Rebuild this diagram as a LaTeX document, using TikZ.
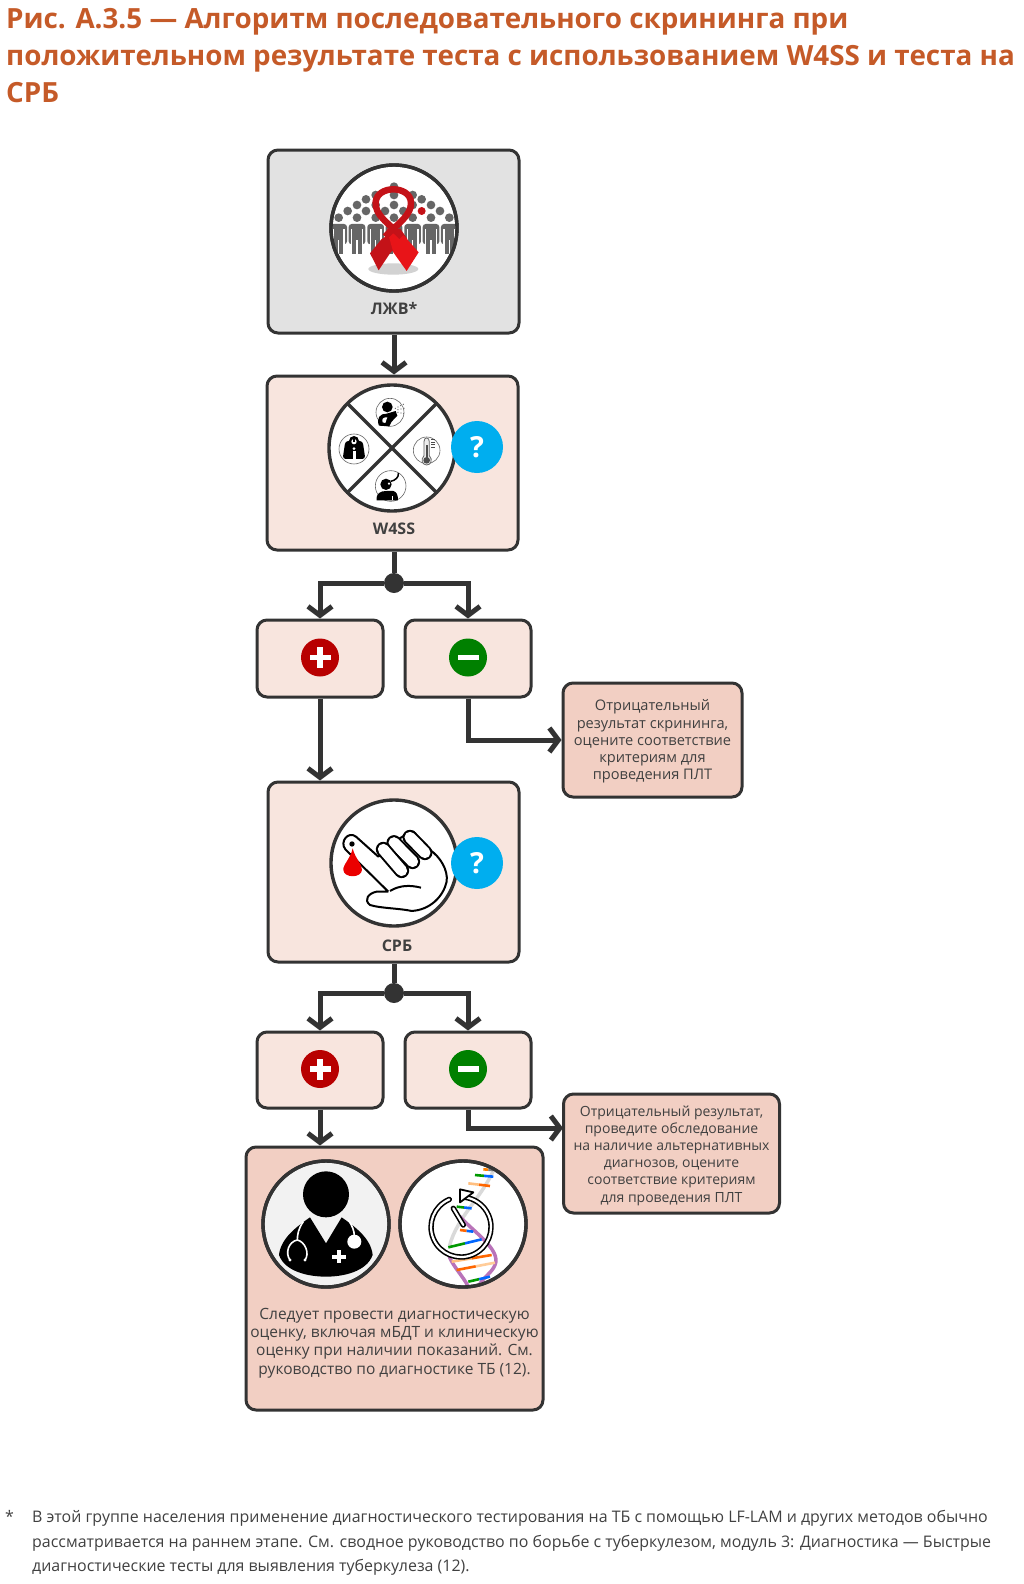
\documentclass[tikz,border=0pt]{standalone}
\usepackage{fontspec}
\setmainfont{Open Sans}
\usepackage{xcolor}
\usetikzlibrary{arrows.meta, positioning, calc}
\definecolor{inkdark}{RGB}{51,51,51}
\definecolor{boxgrey}{RGB}{226,226,226}
\definecolor{boxpale}{RGB}{248,229,222}
\definecolor{boxrose}{RGB}{242,207,195}
\definecolor{titlerust}{RGB}{197,90,40}
\definecolor{askblue}{RGB}{0,174,239}
\definecolor{plusred}{RGB}{184,0,0}
\definecolor{minusgreen}{RGB}{0,128,0}
\definecolor{crowdgrey}{RGB}{102,102,102}
\definecolor{ribbondark}{RGB}{196,18,24}
\definecolor{ribbonlight}{RGB}{232,20,24}
\definecolor{textgrey}{RGB}{64,64,64}
\tikzset{
  flowbox/.style={draw=inkdark, line width=3pt, rounded corners=10pt, inner sep=0pt},
  flowline/.style={draw=inkdark, line width=5pt},
  flowarrow/.style={flowline, -{Straight Barb[length=9pt,width=24pt,line width=5pt]}},
  flowdot/.style={circle, fill=inkdark, minimum size=20pt, inner sep=0pt},
  iconring/.style={draw=inkdark, line width=3.4pt, fill=white},
  minicon/.style={draw=crowdgrey, line width=0.6pt, fill=white},
  askmark/.style={circle, fill=askblue, text=white, minimum size=52pt, inner sep=0pt, font=\fontsize{29}{29}\selectfont\bfseries},
  signmark/.style={circle, minimum size=38pt, inner sep=0pt},
  boxhead/.style={text=textgrey, font=\fontsize{16}{18}\selectfont\bfseries},
  boxtext/.style={text=textgrey, align=center, inner sep=0pt, font=\fontsize{14.6}{17.2}\selectfont},
  zoomview/.style={x=0.3333pt, y=-0.3333pt},
}
\begin{document}
\begin{tikzpicture}[x=1pt, y=-1pt]
  \useasboundingbox (0,0) rectangle (1024,1584);
  % heading
  \node[anchor=north west, text=titlerust, align=left, inner sep=0pt, font=\fontsize{27.8}{37}\selectfont\bfseries] (heading) at (6,8)
    {Рис. А.3.5 --- Алгоритм последовательного скрининга при\\положительном результате теста с использованием W4SS и теста на\\СРБ};

  % boxes
  \node[flowbox, fill=boxgrey, minimum width=251pt, minimum height=183pt] (plhiv) at (393.5,241.5) {};
  \node[flowbox, fill=boxpale, minimum width=251pt, minimum height=174pt] (wfss) at (392.5,463) {};
  \node[flowbox, fill=boxpale, minimum width=126pt, minimum height=77pt] (plusa) at (320,658.5) {};
  \node[flowbox, fill=boxpale, minimum width=126pt, minimum height=77pt] (minusa) at (468,658.5) {};
  \node[flowbox, fill=boxrose, minimum width=179pt, minimum height=114pt] (nega) at (652.5,740) {};
  \node[flowbox, fill=boxpale, minimum width=251pt, minimum height=180pt] (crp) at (393.5,872) {};
  \node[flowbox, fill=boxpale, minimum width=126pt, minimum height=76pt] (plusb) at (320,1070) {};
  \node[flowbox, fill=boxpale, minimum width=126pt, minimum height=76pt] (minusb) at (468,1070) {};
  \node[flowbox, fill=boxrose, minimum width=216pt, minimum height=119pt] (negb) at (671.5,1153.5) {};
  \node[flowbox, fill=boxrose, minimum width=297pt, minimum height=263pt] (assess) at (394.5,1278.5) {};

  % connectors
  \node[flowdot] (splita) at (394,583) {};
  \node[flowdot] (splitb) at (394,993) {};
  \coordinate (negbin) at (563,1128);
  \draw[flowarrow] (plhiv.south -| splita) -- (wfss.north -| splita);
  \draw[flowline] (wfss.south -| splita) -- (splita);
  \draw[flowarrow] (splita) -| (plusa.north);
  \draw[flowarrow] (splita) -| (minusa.north);
  \draw[flowarrow] (plusa.south) -- (plusa.south |- crp.north);
  \draw[flowarrow] (minusa.south) |- (nega.west);
  \draw[flowline] (crp.south -| splitb) -- (splitb);
  \draw[flowarrow] (splitb) -| (plusb.north);
  \draw[flowarrow] (splitb) -| (minusb.north);
  \draw[flowarrow] (plusb.south) -- (plusb.south |- assess.north);
  \draw[flowarrow] (minusb.south) |- (negbin);

  % people and ribbon
  \fill[iconring] (394,228) circle (63);
  \begin{scope}
    \clip (394,228) circle (61.5);
    \begin{scope}[shift={(330,165)}, zoomview]
      \fill[gray!35] (190,312) ellipse (75 and 17);
      \foreach \hx/\hy in {192/65,137/90,192/90,248/90,108/103,275/103,81/120,137/120,192/120,248/120,303/120,53/138,108/138,165/138,220/138,330/138,26/158,81/158,137/158,192/158,248/158,303/158,358/158}
        \fill[crowdgrey] (\hx,\hy) circle (13);
      \fill[ribbondark] (275,138) circle (12);
      \foreach \px in {26,81,137,192,248,303,358}{
        \fill[crowdgrey, rounded corners=3pt] (\px-25,177) rectangle (\px+25,238);
        \fill[crowdgrey] (\px-14,230) rectangle (\px+14,266);
        \fill[white] (\px-2,226) rectangle (\px+2,268);
        \fill[white] (\px-18,192) rectangle (\px-14,240);
        \fill[white] (\px+14,192) rectangle (\px+18,240);
      }
    \end{scope}
  \end{scope}
  \begin{scope}[shift={(330,165)}, zoomview]
    \fill[ribbondark] (210,190) -- (155,222) -- (120,265) -- (146,316) -- (182,262) -- (232,222) -- cycle;
    \fill[ribbonlight] (170,190) -- (190,262) -- (230,318) -- (266,262) -- (222,212) -- cycle;
    \draw[ribbondark, line width=6.5pt, line join=round] (215,215) .. controls (170,170) and (135,150) .. (137,112) .. controls (140,60) and (240,60) .. (243,112) .. controls (245,150) and (205,175) .. (165,215);
  \end{scope}
  \draw[iconring, fill=none] (394,228) circle (63);
  \node[boxhead] (plhivlabel) at (394,309) {ЛЖВ*};

  % four symptoms
  \fill[iconring] (392,448) circle (63);
  \draw[inkdark, line width=3.4pt] (347.5,403.5) -- (436.5,492.5) (436.5,403.5) -- (347.5,492.5);
  \begin{scope}[shift={(330,385)}, zoomview]
    \draw[minicon] (180,82) circle (42);
    \draw[minicon] (290,196) circle (40);
    \draw[minicon] (72,192) circle (45);
    \draw[minicon] (182,303) circle (46);
    % cough
    \fill[black] (172,66) circle (16);
    \fill[black] (147,122) .. controls (138,100) and (150,85) .. (170,86) -- (197,78) -- (202,92) -- (185,110) -- (178,124) -- cycle;
    \fill[white] (158,112) .. controls (154,102) and (160,96) .. (172,97) -- (166,114) -- cycle;
    \foreach \dropx/\dropy in {196/70,204/66,212/62,220/58,204/74,213/72,222/70,204/82,213/84,221/86}
      \fill[crowdgrey] (\dropx,\dropy) circle (2);
    % thermometer
    \draw[crowdgrey, line width=0.8pt, fill=gray!15] (282,212) -- (282,170) .. controls (282,155) and (298,155) .. (298,170) -- (298,212) .. controls (310,225) and (302,240) .. (290,240) .. controls (278,240) and (270,225) .. (282,212) -- cycle;
    \fill[black!70] (290,226) circle (10);
    \fill[black!70] (287,180) rectangle (293,222);
    \foreach \ty in {163,171,179,187}
      \draw[black!70, line width=0.8pt] (304,\ty) -- (316,\ty);
    % scales
    \fill[black, rounded corners=3pt] (46,168) -- (98,168) -- (106,222) -- (38,222) -- cycle;
    \fill[black] (72,168) circle (15);
    \fill[white] (72,170) circle (8);
    \fill[black] (70,163) rectangle (74,171);
    \fill[white] (72,191) circle (4.5);
    \fill[white] (67.5,199) rectangle (76.5,225);
    % night sweats
    \fill[black] (168,298) circle (17);
    \fill[white] (177,296) circle (3.5);
    \fill[black] (140,346) .. controls (138,325) and (150,318) .. (170,318) -- (190,318) .. controls (200,320) and (204,330) .. (204,346) -- cycle;
    \fill[white] (187,332) rectangle (190,346);
    \draw[black, line width=1.5pt] (205,264) .. controls (208,276) and (195,287) .. (182,289);
  \end{scope}
  \node[askmark] (askwfss) at (477,447) {?};
  \node[boxhead] (wfsslabel) at (394,529) {W4SS};

  % signs
  \foreach \signname/\signbox/\signfill in {signpa/plusa/plusred,signma/minusa/minusgreen,signpb/plusb/plusred,signmb/minusb/minusgreen}
    \node[signmark, fill=\signfill, yshift=1pt] (\signname) at (\signbox) {};
  \foreach \signname in {signpa,signpb}{
    \fill[white] ($(\signname)+(-10.5,-2.8)$) rectangle ($(\signname)+(10.5,2.8)$);
    \fill[white] ($(\signname)+(-2.8,-10.5)$) rectangle ($(\signname)+(2.8,10.5)$);
  }
  \foreach \signname in {signma,signmb}
    \fill[white] ($(\signname)+(-10.5,-2.6)$) rectangle ($(\signname)+(10.5,2.6)$);

  % finger prick
  \fill[iconring] (394,863) circle (63);
  \begin{scope}[shift={(240,560)}, zoomview]
    \draw[black, line width=2pt, line join=round, fill=white] (445,995) -- (316,868) .. controls (298,845) and (325,812) .. (348,830) -- (415,890) -- (455,858) -- (475,838) -- (500,822) -- (520,815) -- (570,870) .. controls (600,890) and (625,930) .. (620,965) .. controls (610,1010) and (570,1050) .. (515,1053) .. controls (480,1045) and (420,1045) .. (390,1035) .. controls (370,1020) and (385,1000) .. (410,995) -- (445,995);
    \foreach \xa/\ya/\xb/\yb in {510/832/555/878,462/848/518/905,430/868/485/932}{
      \draw[black, line width=15pt, line cap=round] (\xa,\ya) -- (\xb,\yb);
      \draw[white, line width=11pt, line cap=round] (\xa,\ya) -- (\xb,\yb);
    }
    \draw[black, line width=2pt] (450,993) .. controls (480,975) and (510,975) .. (543,983);
    \fill[black] (336,852) circle (8);
    \fill[red!92!black] (338,865) .. controls (345,895) and (368,915) .. (366,930) .. controls (364,955) and (312,955) .. (310,930) .. controls (308,915) and (332,895) .. (338,865) -- cycle;
  \end{scope}
  \node[askmark] (askcrp) at (477,863) {?};
  \node[boxhead] (crplabel) at (397,946) {СРБ};

  % clinician
  \fill[iconring, fill=gray!10] (326,1224) circle (63);
  \begin{scope}[shift={(260,1160)}, zoomview]
    \fill[black] (198,103) circle (69);
    \fill[black] (57,285) .. controls (62,235) and (110,200) .. (150,172) -- (198,250) -- (245,172) .. controls (285,200) and (333,235) .. (338,285) .. controls (320,335) and (250,350) .. (198,350) .. controls (145,350) and (75,335) .. (57,285) -- cycle;
    \draw[white, line width=1.6pt] (130,185) .. controls (115,205) and (112,225) .. (112,240) .. controls (85,245) and (75,280) .. (90,300) (112,240) .. controls (135,245) and (150,280) .. (135,300);
    \fill[white] (90,300) circle (5);
    \fill[white] (135,300) circle (5);
    \draw[white, line width=1.6pt] (265,180) .. controls (275,195) and (283,210) .. (283,228);
    \fill[white] (283,245) circle (21);
    \fill[white] (217,284) rectangle (257,296);
    \fill[white] (231,270) rectangle (243,310);
  \end{scope}
  \draw[iconring, fill=none] (326,1224) circle (63);

  % helix and clock
  \fill[iconring] (463,1224) circle (63);
  \begin{scope}
    \clip (463,1224) circle (61.5);
    \begin{scope}[shift={(260,1160)}, zoomview]
      \draw[gray!30, line width=3.5pt] (705,20) .. controls (670,110) and (590,170) .. (568,260);
      \draw[violet!55, line width=3.5pt] (600,170) .. controls (640,215) and (725,270) .. (705,315) .. controls (695,340) and (670,350) .. (655,380);
      \draw[violet!55, line width=3.5pt] (568,290) .. controls (580,320) and (610,350) .. (625,380);
      \foreach \xa/\ya/\xb/\yb/\tonea/\toneb in {670/28/700/30/orange/gray,645/45/700/50/green!60!black/blue!60!cyan,625/70/690/78/orange!50!white/orange!80!red,590/140/635/145/green!60!black/blue!60!cyan,600/210/640/215/orange!80!red/blue!60!cyan,565/262/665/238/green!60!black/blue!60!cyan,575/305/695/285/orange!50!white/orange!80!red,590/330/705/308/orange!80!red/orange!40!white,625/365/690/350/green!60!black/blue!60!cyan}{
        \draw[\tonea, line width=2.6pt] (\xa,\ya) -- ($(\xa,\ya)!0.5!(\xb,\yb)$);
        \draw[\toneb, line width=2.6pt] ($(\xa,\ya)!0.5!(\xb,\yb)$) -- (\xb,\yb);
      }
    \end{scope}
  \end{scope}
  \draw[black, line width=5.4pt, line cap=round] (449.3,1199.4) arc (247:-86:30);
  \draw[white, line width=2.2pt, line cap=round] (449.3,1199.4) arc (247:-86:30);
  \begin{scope}[shift={(260,1160)}, zoomview]
    \draw[black, line width=1.8pt, fill=white, line join=round] (600,88) -- (640,97) -- (600,127) -- cycle;
  \end{scope}
  \draw[black, line width=5.4pt, line cap=round] (453.3,1208.3) -- (463.3,1225);
  \draw[white, line width=2.2pt, line cap=round] (453.3,1208.3) -- (463.3,1225);
  \draw[iconring, fill=none] (463,1224) circle (63);

  % box texts
  \node[boxtext] (negatext) at (652.5,741.5) {Отрицательный\\результат скрининга,\\оцените соответствие\\критериям для\\проведения ПЛТ};
  \node[boxtext, font=\fontsize{14}{17.2}\selectfont] (negbtext) at (671.5,1155.5) {Отрицательный результат,\\проведите обследование\\на наличие альтернативных\\диагнозов, оцените\\соответствие критериям\\для проведения ПЛТ};
  \node[boxtext, font=\fontsize{15.5}{18.2}\selectfont] (assesstext) at (394.5,1343) {Следует провести диагностическую\\оценку, включая мБДТ и клиническую\\оценку при наличии показаний. См.\\руководство по диагностике ТБ (12).};

  % footnote
  \node[anchor=north west, inner sep=0pt, text=textgrey, font=\fontsize{15.95}{24.6}\selectfont] (notemark) at (5,1510) {*};
  \node[anchor=north west, inner sep=0pt, align=left, text=textgrey, font=\fontsize{15.95}{24.6}\selectfont] (notetext) at (32,1510)
    {В этой группе населения применение диагностического тестирования на ТБ с помощью LF-LAM и других методов обычно\\рассматривается на раннем этапе. См. сводное руководство по борьбе с туберкулезом, модуль 3: Диагностика --- Быстрые\\диагностические тесты для выявления туберкулеза (12).};
\end{tikzpicture}
\end{document}
